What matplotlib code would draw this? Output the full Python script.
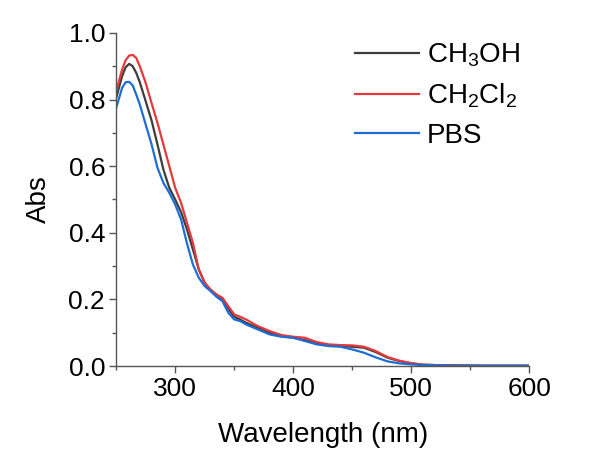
import matplotlib
matplotlib.use("Agg")
import matplotlib.pyplot as plt
from matplotlib.ticker import MultipleLocator

plt.rcParams['font.family'] = ['Liberation Sans', 'DejaVu Sans']
plt.rcParams['mathtext.fontset'] = 'custom'
plt.rcParams['mathtext.rm'] = 'Liberation Sans'
plt.rcParams['mathtext.it'] = 'Liberation Sans:italic'

wavelength = [250, 255, 258, 261, 264, 267, 270, 275, 280, 285, 290, 295, 300, 305, 310, 315,
              320, 325, 330, 335, 340, 345, 350, 355, 360, 370, 380, 390, 400, 410,
              420, 430, 440, 450, 460, 470, 480, 490, 500, 510, 520, 540, 560, 580, 600]

ch3oh = [0.805, 0.87, 0.897, 0.907, 0.9, 0.88, 0.852, 0.795, 0.737, 0.665, 0.59, 0.535, 0.50, 0.462, 0.41, 0.35,
         0.29, 0.25, 0.227, 0.212, 0.20, 0.172, 0.148, 0.14, 0.13, 0.115, 0.10, 0.09, 0.085, 0.078,
         0.068, 0.062, 0.060, 0.058, 0.055, 0.042, 0.025, 0.015, 0.008, 0.004, 0.003, 0.002, 0.001, 0.001, 0.001]

ch2cl2 = [0.825, 0.89, 0.918, 0.932, 0.934, 0.925, 0.90, 0.85, 0.789, 0.73, 0.665, 0.60, 0.535, 0.49, 0.43, 0.37,
          0.29, 0.25, 0.23, 0.215, 0.205, 0.18, 0.155, 0.148, 0.14, 0.12, 0.105, 0.093, 0.088, 0.085,
          0.072, 0.065, 0.063, 0.062, 0.058, 0.045, 0.027, 0.016, 0.009, 0.004, 0.003, 0.002, 0.001, 0.001, 0.001]

pbs = [0.775, 0.835, 0.852, 0.853, 0.842, 0.815, 0.785, 0.725, 0.665, 0.595, 0.55, 0.52, 0.485, 0.44, 0.368, 0.305,
       0.265, 0.24, 0.225, 0.208, 0.195, 0.16, 0.14, 0.135, 0.125, 0.11, 0.095, 0.088, 0.085, 0.075,
       0.065, 0.060, 0.058, 0.050, 0.040, 0.026, 0.014, 0.008, 0.005, 0.003, 0.002, 0.001, 0.001, 0.001, 0.001]

fig = plt.figure(figsize=(6.02, 4.57), dpi=100)
ax = fig.add_axes([0.193, 0.199, 0.686, 0.729])

ax.plot(wavelength, ch3oh, color='#3d3d3d', lw=1.6, label='CH$_3$OH')
ax.plot(wavelength, ch2cl2, color='#e5393b', lw=1.6, label='CH$_2$Cl$_2$')
ax.plot(wavelength, pbs, color='#1c6ed6', lw=1.6, label='PBS')

ax.set_xlim(250, 600)
ax.set_ylim(0, 1.0)
ax.xaxis.set_major_locator(MultipleLocator(100))
ax.xaxis.set_minor_locator(MultipleLocator(50))
ax.yaxis.set_major_locator(MultipleLocator(0.2))
ax.yaxis.set_minor_locator(MultipleLocator(0.1))
ax.yaxis.set_major_formatter(plt.FormatStrFormatter('%.1f'))

for s in ['top', 'right']:
    ax.spines[s].set_visible(False)
for s in ['left', 'bottom']:
    ax.spines[s].set_color('#555555')
    ax.spines[s].set_linewidth(1.0)

ax.tick_params(which='major', direction='out', length=5, width=1, labelsize=19, color='#555555', pad=3)
ax.tick_params(which='minor', direction='out', length=3, width=1, color='#555555')

ax.set_xlabel('Wavelength (nm)', fontsize=20, labelpad=15)
ax.set_ylabel('Abs', fontsize=20, labelpad=12)

ax.legend(loc='upper left', bbox_to_anchor=(0.548, 0.963), bbox_transform=fig.transFigure,
          frameon=False, fontsize=20, handlelength=2.3, handletextpad=0.3, labelspacing=0.45)

fig.savefig('out.png', dpi=100)
